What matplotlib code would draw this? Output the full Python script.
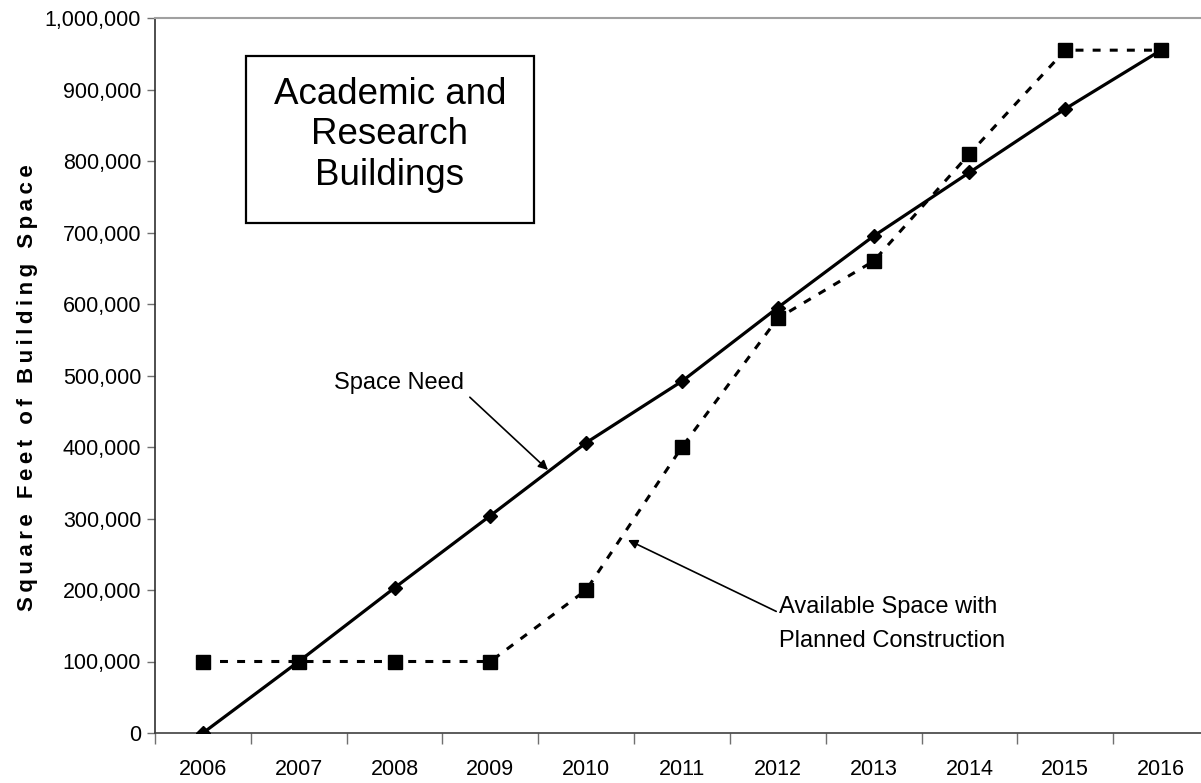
import matplotlib
matplotlib.use("Agg")
import matplotlib.pyplot as plt
from matplotlib.ticker import FuncFormatter, FixedLocator

plt.rcParams['font.family'] = ['Liberation Sans', 'DejaVu Sans']

years = ['2006', '2007', '2008', '2009', '2010', '2011', '2012', '2013', '2014', '2015', '2016']
space_need = [0, 100000, 203000, 304000, 406000, 492000, 595000, 695000, 784000, 873000, 955000]
available_space = [100000, 100000, 100000, 100000, 200000, 400000, 580000, 660000, 810000, 955000, 955000]
y_ticks = [0, 100000, 200000, 300000, 400000, 500000, 600000, 700000, 800000, 900000, 1000000]

W, H = 1201, 783
fig = plt.figure(figsize=(W / 100, H / 100), dpi=100)
ax = fig.add_axes([155 / W, 50 / H, (1209 - 155) / W, 715 / H])

x = list(range(len(years)))
l2, = ax.plot(x, available_space, color='black', lw=2.2, marker='s', markersize=9.5,
              markeredgecolor='black', markerfacecolor='black', zorder=3)
l2.set_dashes((2.6, 3.0))
ax.plot(x, space_need, color='black', lw=2.3, marker='D', markersize=7.5,
        markeredgecolor='black', markerfacecolor='black', zorder=4)

ax.set_xlim(-0.5, len(years) - 0.5)
ax.set_ylim(0, 1000000)
ax.yaxis.set_major_locator(FixedLocator(y_ticks))
ax.yaxis.set_major_formatter(FuncFormatter(lambda v, p: f"{int(v):,}"))

ax.set_xticks([i + 0.5 for i in range(-1, len(years))])
ax.set_xticklabels([])
ax.set_xticks(x, minor=True)
ax.set_xticklabels(years, minor=True)
ax.tick_params(axis='x', which='major', length=8, width=1, color='#707070', direction='out')
ax.tick_params(axis='x', which='minor', length=0, pad=19, labelsize=15.5)
ax.tick_params(axis='y', length=6, width=1, color='#707070', direction='out', labelsize=15.5, pad=4)

ax.spines['right'].set_visible(False)
ax.spines['top'].set_color('#a0a0a0')
ax.spines['top'].set_linewidth(1.5)
ax.spines['left'].set_color('#303030')
ax.spines['left'].set_linewidth(1.2)
ax.spines['bottom'].set_color('#404040')
ax.spines['bottom'].set_linewidth(1.2)

ylab = '\u2009'.join('Square Feet of Building Space')
fig.text(28 / W, 1 - 388 / H, ylab, rotation=90, ha='center', va='center',
         fontsize=16, fontweight='bold')

# Title box
fig.text(390 / W, 1 - 135 / H, 'Academic and\nResearch\nBuildings', ha='center', va='center',
         fontsize=26.5, linespacing=1.19)
fig.patches.append(plt.Rectangle((246 / W, 1 - 223 / H), (534 - 246) / W, (223 - 56) / H,
                                 transform=fig.transFigure, fill=False, edgecolor='black', lw=1.6))

def fp(px, py):
    return (px / W, 1 - py / H)

ax.annotate('Space Need', xy=fp(548, 470), xycoords='figure fraction',
            xytext=fp(464, 383), textcoords='figure fraction', ha='right', va='center',
            fontsize=17,
            arrowprops=dict(arrowstyle='-|>', color='black', lw=1.2, mutation_scale=14,
                            shrinkA=3, shrinkB=0, relpos=(1, 0.1)))
ax.annotate('Available Space with\nPlanned Construction', xy=fp(628, 540), xycoords='figure fraction',
            xytext=fp(779, 624), textcoords='figure fraction', ha='left', va='center',
            fontsize=17, linespacing=1.72,
            arrowprops=dict(arrowstyle='-|>', color='black', lw=1.2, mutation_scale=14,
                            shrinkA=0, shrinkB=0, relpos=(0, 0.7)))

fig.savefig('out.png', dpi=100)
